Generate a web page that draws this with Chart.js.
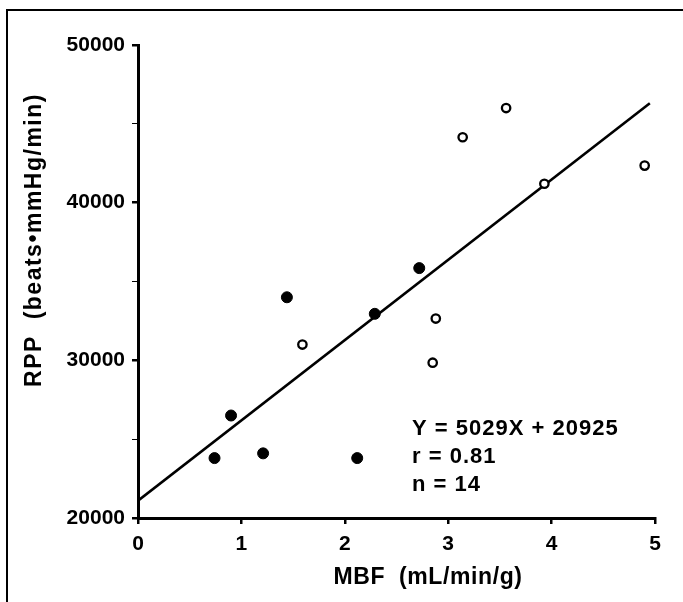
<!DOCTYPE html>
<html>
<head>
<meta charset="utf-8">
<script src="https://cdn.jsdelivr.net/npm/chart.js@4"></script>
<style>
  html, body { margin: 0; padding: 0; background: #fff; }
  #wrap { position: relative; width: 683px; height: 602px; overflow: hidden; }
  #frame { position: absolute; left: 6px; top: 9px; right: -4px; bottom: -4px;
           border-left: 2px solid #000; border-top: 2px solid #000; }
  canvas { position: absolute; left: 0; top: 0; }
</style>
</head>
<body>
<div id="wrap">
  <div id="frame"></div>
  <canvas id="c" width="683" height="602"></canvas>
</div>
<script>
// ---- data ----
const mbfFilled = [0.74, 0.90, 1.21, 1.44, 2.12, 2.29, 2.72];
const rppFilled = [23800, 26500, 24100, 34000, 23800, 32950, 35850];
const mbfOpen = [1.59, 2.85, 2.88, 3.14, 3.56, 3.93, 4.90];
const rppOpen = [31000, 29850, 32650, 44150, 46000, 41200, 42350];
const fitX = [0, 4.95];
const fitY = [21100, 46300];
const xTickValues = [0, 1, 2, 3, 4, 5];
const yTickLabels = ['20000', '30000', '40000', '50000'];
const xTitle = 'MBF  (mL/min/g)';
const yTitle = 'RPP  (beats\u2022mmHg/min)';
const statLines = ['Y = 5029X + 20925', 'r = 0.81', 'n = 14'];

const FONT = '"Liberation Sans", Arial, Helvetica, sans-serif';

function pts(xs, ys) { return xs.map((x, i) => ({ x: x, y: ys[i] })); }

const textPlugin = {
  id: 'texts',
  afterDraw(chart) {
    const ctx = chart.ctx;
    const xs = chart.scales.x, ys = chart.scales.y;
    ctx.save();
    ctx.fillStyle = '#000';
    ctx.textAlign = 'center';
    ctx.textBaseline = 'middle';
    // x title
    ctx.font = 'bold 23px ' + FONT;
    ctx.letterSpacing = '0.6px';
    ctx.fillText(xTitle, 428, 578);
    // y title
    ctx.save();
    ctx.font = 'bold 23px ' + FONT;
    ctx.letterSpacing = '1.5px';
    ctx.translate(35, 240);
    ctx.rotate(-Math.PI / 2);
    ctx.fillText(yTitle, 0, 0);
    ctx.restore();
    // statistics
    ctx.textAlign = 'left';
    ctx.font = 'bold 22px ' + FONT;
    ctx.letterSpacing = '1px';
    const x0 = xs.getPixelForValue(2.65);
    const y0 = ys.getPixelForValue(25680);
    statLines.forEach((s, i) => ctx.fillText(s, x0, y0 + i * 28));
    ctx.restore();
  }
};

new Chart(document.getElementById('c'), {
  type: 'scatter',
  data: {
    datasets: [
      {
        label: 'fit', type: 'line', data: pts(fitX, fitY), showLine: true,
        borderColor: '#000', borderWidth: 2.6, pointRadius: 0, fill: false, order: 3
      },
      {
        label: 'filled', data: pts(mbfFilled, rppFilled),
        pointRadius: 5.5, pointBackgroundColor: '#000', pointBorderColor: '#000',
        pointBorderWidth: 1, order: 1
      },
      {
        label: 'open', data: pts(mbfOpen, rppOpen),
        pointRadius: 4.2, pointBackgroundColor: '#fff', pointBorderColor: '#000',
        pointBorderWidth: 2.3, order: 1
      }
    ]
  },
  options: {
    responsive: false,
    animation: false,
    devicePixelRatio: 1,
    layout: { padding: { left: 0, right: 28, top: 45, bottom: 0 } },
    plugins: { legend: { display: false }, tooltip: { enabled: false }, title: { display: false } },
    scales: {
      x: {
        type: 'linear', min: 0, max: 5,
        afterFit(scale) { scale.height = 84; },
        afterBuildTicks(scale) { scale.ticks = xTickValues.map(v => ({ value: v })); },
        border: { display: true, color: '#000', width: 3 },
        grid: { drawOnChartArea: false, drawTicks: true, tickLength: 6, color: '#000', lineWidth: 2.5 },
        ticks: {
          color: '#000', padding: 8, maxRotation: 0,
          font: { family: FONT, size: 21, weight: 'bold' },
          callback: v => String(v)
        }
      },
      y: {
        type: 'linear', min: 20000, max: 50000,
        afterFit(scale) { scale.width = 138; },
        border: { display: true, color: '#000', width: 3 },
        grid: {
          drawOnChartArea: false, drawTicks: true, tickLength: 6, color: '#000',
          lineWidth: c => (c.tick && c.tick.value % 10000 === 0) ? 2.5 : 1
        },
        ticks: {
          stepSize: 5000, color: '#000', padding: 7,
          font: { family: FONT, size: 21, weight: 'bold' },
          callback: v => {
            const s = String(v);
            return yTickLabels.includes(s) ? s : '';
          }
        }
      }
    }
  },
  plugins: [textPlugin]
});
</script>
</body>
</html>
